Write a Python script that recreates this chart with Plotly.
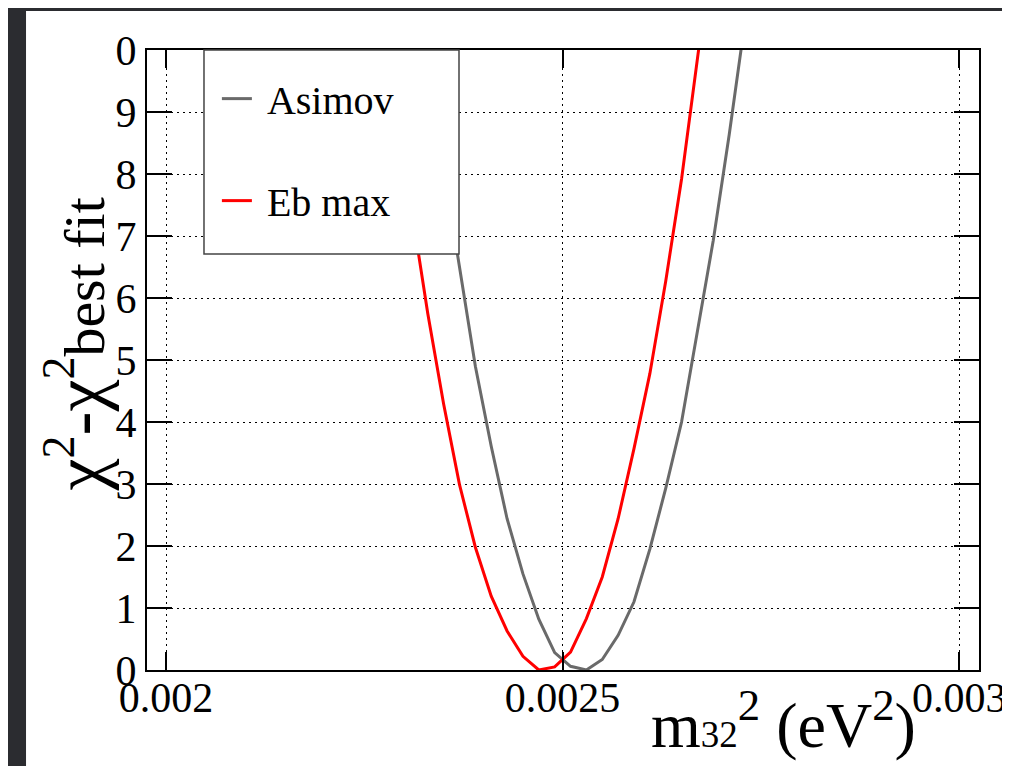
import plotly.graph_objects as go

# chi2 scan vs m32^2
asimov_x = [0.00231, 0.00233, 0.00235, 0.00237, 0.00239, 0.00241, 0.00243, 0.00245,
            0.00247, 0.00249, 0.00251, 0.00253, 0.00255, 0.00257, 0.00259, 0.00261,
            0.00263, 0.00265, 0.00267, 0.00269, 0.00271, 0.00273, 0.00275]
asimov_y = [11.8, 9.9, 8.1, 6.47, 4.9, 3.61, 2.44, 1.55,
            0.82, 0.28, 0.06, 0.0, 0.17, 0.56, 1.1, 1.95,
            2.93, 4.0, 5.5, 6.93, 8.63, 10.5, 12.3]

ebmax_x = [0.00225, 0.00227, 0.00229, 0.00231, 0.00233, 0.00235, 0.00237, 0.00239,
           0.00241, 0.00243, 0.00245, 0.00247, 0.00249, 0.00251, 0.00253, 0.00255,
           0.00257, 0.00259, 0.00261, 0.00263, 0.00265, 0.00267, 0.00269]
ebmax_y = [13.1, 11.1, 9.2, 7.4, 5.75, 4.29, 2.99, 1.98,
           1.19, 0.63, 0.22, 0.0, 0.05, 0.29, 0.83, 1.5,
           2.44, 3.57, 4.78, 6.27, 7.92, 9.82, 11.8]

x_ticks = [0.002, 0.0025, 0.003]
x_ticktext = ["0.002", "0.0025", "0.003"]
y_ticks = list(range(11))
y_ticktext = ["0", "1", "2", "3", "4", "5", "6", "7", "8", "9", "0"]

FONT = "Liberation Serif"
NB = "\u00a0"

fig = go.Figure()
fig.add_trace(go.Scatter(x=asimov_x, y=asimov_y, mode="lines", name=NB + "Asimov",
                         legendgroup="a", line=dict(color="#6a6a6a", width=3)))
fig.add_trace(go.Scatter(x=ebmax_x, y=ebmax_y, mode="lines", name=NB + "Eb max",
                         legendgroup="b", line=dict(color="#ff0000", width=3)))

axis_common = dict(
    showline=True, linecolor="black", linewidth=2, mirror="ticks",
    ticks="inside", tickcolor="black", tickwidth=1.5,
    showgrid=True, gridcolor="black", gridwidth=1, griddash="2px,4px",
    zeroline=False, automargin=False,
    tickfont=dict(family=FONT, size=42, color="black"),
)

fig.update_xaxes(range=[0.001976, 0.003025], tickvals=x_ticks, ticktext=x_ticktext,
                 ticklen=18, ticklabelstandoff=-10, ticklabeloverflow="allow", **axis_common)
fig.update_yaxes(range=[0, 10], tickvals=y_ticks, ticktext=y_ticktext,
                 ticklen=25, **axis_common)

shapes = [
    # white page panel over the dark backdrop
    dict(type="rect", xref="paper", yref="paper", x0=-0.1454, x1=1.05, y0=-0.19, y1=1.0629,
         fillcolor="white", line=dict(width=0), layer="below"),
    # legend box
    dict(type="rect", xref="paper", yref="paper", x0=0.0685, x1=0.375, y0=0.671, y1=1.0,
         fillcolor="white", line=dict(color="#444444", width=1.5), layer="above"),
]

annotations = [
    dict(text="m<span style='font-size:37px'>32</span><sup>2</sup> (eV<sup>2</sup>)",
         xref="paper", yref="paper", x=0.927, y=-0.081, xanchor="right", yanchor="middle",
         showarrow=False, font=dict(family=FONT, size=64, color="black")),
    dict(text="χ<sup><span style='font-size:46px'>2</span></sup>-χ"
              "<sup><span style='font-size:46px'>2</span></sup>"
              "<span style='font-size:58px'>best fit</span>",
         textangle=-90,
         xref="paper", yref="paper", x=-0.0853, y=0.525, xanchor="center", yanchor="middle",
         showarrow=False, font=dict(family=FONT, size=72, color="black")),
]

# page body adds an 8px offset, so the figure is kept smaller than the window
fig.update_layout(
    width=994, height=758,
    margin=dict(l=139, r=23, t=42, b=96),
    paper_bgcolor="#2b2c30", plot_bgcolor="white",
    showlegend=True,
    legend=dict(x=0.084, y=0.974, xanchor="left", yanchor="top", bgcolor="rgba(0,0,0,0)",
                borderwidth=0, traceorder="grouped", tracegroupgap=47,
                font=dict(family=FONT, size=40, color="black")),
    shapes=shapes, annotations=annotations,
)

fig.write_html("out.html")
